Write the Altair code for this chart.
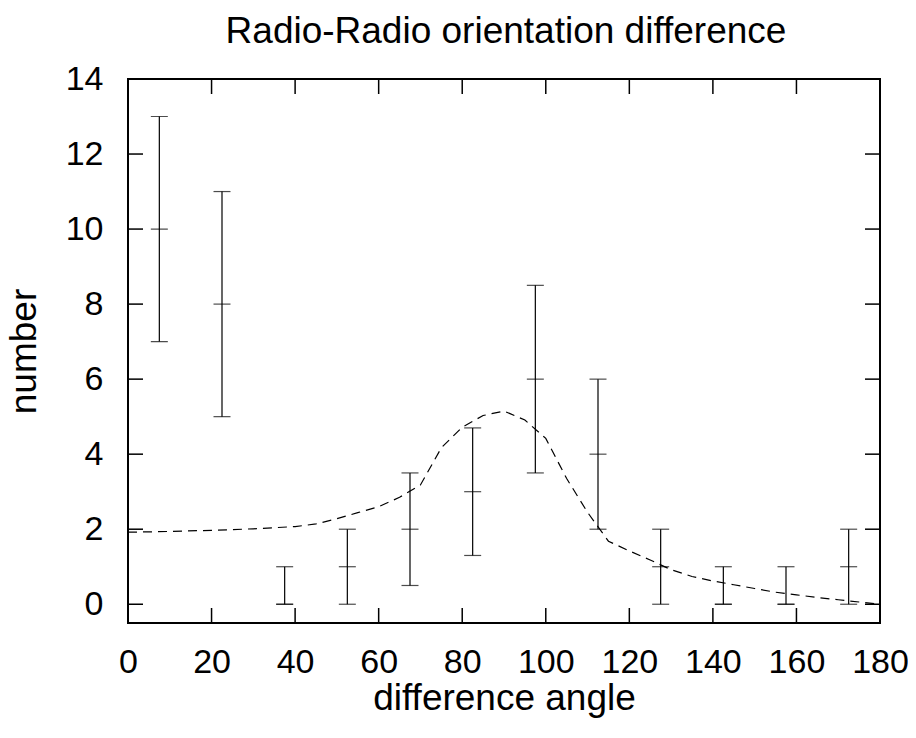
import altair as alt
import pandas as pd

# ---- data ----
angle = [7.5, 22.5, 37.5, 52.5, 67.5, 82.5, 97.5, 112.5, 127.5, 142.5, 157.5, 172.5]
count = [10, 8, 0, 1, 2, 3, 6, 4, 1, 0, 0, 1]
err_low = [7, 5, 0, 0, 0.5, 1.3, 3.5, 2, 0, 0, 0, 0]
err_high = [13, 11, 1, 2, 3.5, 4.7, 8.5, 6, 2, 1, 1, 2]

model_x = [0, 10, 20, 30, 40, 45, 50, 55, 60, 65, 70, 75, 80, 85, 90, 95, 100,
           105, 110, 115, 120, 125, 130, 135, 140, 145, 150, 155, 160, 165, 170, 175, 180]
model_y = [1.92, 1.94, 1.97, 2.01, 2.07, 2.14, 2.28, 2.44, 2.60, 2.85, 3.18, 4.17, 4.72,
           5.03, 5.15, 4.91, 4.42, 3.35, 2.45, 1.68, 1.42, 1.18, 0.92, 0.74, 0.62, 0.52,
           0.42, 0.32, 0.25, 0.18, 0.12, 0.06, 0.0]

x_ticks = [0, 20, 40, 60, 80, 100, 120, 140, 160, 180]
y_ticks = [0, 2, 4, 6, 8, 10, 12, 14]

title_text = ["Radio-Radio orientation difference"]

W, H = 752, 544
FONT = "Liberation Sans"
TICK_LEN = 15
LABEL_SIZE = 34
TITLE_SIZE = 37

pts = pd.DataFrame({"angle": angle, "count": count, "lo": err_low, "hi": err_high})
model = pd.DataFrame({"x": model_x, "y": model_y})
xt = pd.DataFrame({"v": x_ticks})
yt = pd.DataFrame({"v": y_ticks})
ttl = pd.DataFrame({"t": title_text})

xscale = alt.Scale(domain=[0, 180], nice=False, zero=False)
yscale = alt.Scale(domain=[-0.5, 14], nice=False, zero=False)

xaxis = alt.Axis(values=x_ticks, title="difference angle", grid=False, domain=False,
                 ticks=False, tickSize=0, labelPadding=49, labelBaseline="alphabetic",
                 labelFont=FONT, labelFontSize=LABEL_SIZE, labelColor="black",
                 titleFont=FONT, titleFontSize=TITLE_SIZE, titleFontWeight="normal",
                 titleColor="black", titleX=376, titleY=86, titleBaseline="alphabetic",
                 titleAlign="center", labelFlush=False, labelOverlap=False)
yaxis = alt.Axis(values=y_ticks, title="number", grid=False, domain=False,
                 ticks=False, tickSize=0, labelPadding=25, labelBaseline="middle",
                 labelFont=FONT, labelFontSize=LABEL_SIZE, labelColor="black",
                 titleFont=FONT, titleFontSize=TITLE_SIZE, titleFontWeight="normal",
                 titleColor="black", titleX=-93, titleY=272, titleAngle=270,
                 titleBaseline="alphabetic", titleAlign="center",
                 labelFlush=False, labelOverlap=False)

X = lambda f: alt.X(f, type="quantitative", scale=xscale, axis=xaxis)
Y = lambda f: alt.Y(f, type="quantitative", scale=yscale, axis=yaxis)

base = alt.Chart(pts)

bars = base.mark_rule(color="black", strokeWidth=1.2).encode(
    x=X("angle"), y=Y("lo"), y2="hi")
cap_lo = base.mark_tick(color="black", orient="horizontal", size=17, thickness=1.2).encode(
    x=X("angle"), y=Y("lo"))
cap_hi = base.mark_tick(color="black", orient="horizontal", size=17, thickness=1.2).encode(
    x=X("angle"), y=Y("hi"))
center = base.mark_tick(color="black", orient="horizontal", size=17, thickness=1.2).encode(
    x=X("angle"), y=Y("count"))

curve = alt.Chart(model).mark_line(color="black", strokeWidth=1.2, strokeDash=[9, 6]).encode(
    x=X("x"), y=Y("y"))

tick_style = dict(color="black", strokeWidth=1.5)
xt_bottom = alt.Chart(xt).mark_rule(**tick_style).encode(
    x=X("v"), y=alt.value(H), y2=alt.value(H - TICK_LEN))
xt_top = alt.Chart(xt).mark_rule(**tick_style).encode(
    x=X("v"), y=alt.value(0), y2=alt.value(TICK_LEN))
yt_left = alt.Chart(yt).mark_rule(**tick_style).encode(
    y=Y("v"), x=alt.value(0), x2=alt.value(TICK_LEN))
yt_right = alt.Chart(yt).mark_rule(**tick_style).encode(
    y=Y("v"), x=alt.value(W), x2=alt.value(W - TICK_LEN))

title_mark = alt.Chart(ttl).mark_text(
    font=FONT, fontSize=TITLE_SIZE, color="black", align="center", baseline="alphabetic"
).encode(text="t:N", x=alt.value(W / 2 + 2), y=alt.value(-36))

chart = alt.layer(
    xt_bottom, xt_top, yt_left, yt_right, curve, bars, cap_lo, cap_hi, center, title_mark
).properties(
    width=W, height=H,
    background="white",
    autosize=alt.AutoSizeParams(type="none"),
    padding={"left": 120, "top": 71, "right": 28, "bottom": 107},
).configure_view(
    stroke="black", strokeWidth=2, fill="white"
)

chart.save("out.html", embed_options={"renderer": "svg", "actions": False})
